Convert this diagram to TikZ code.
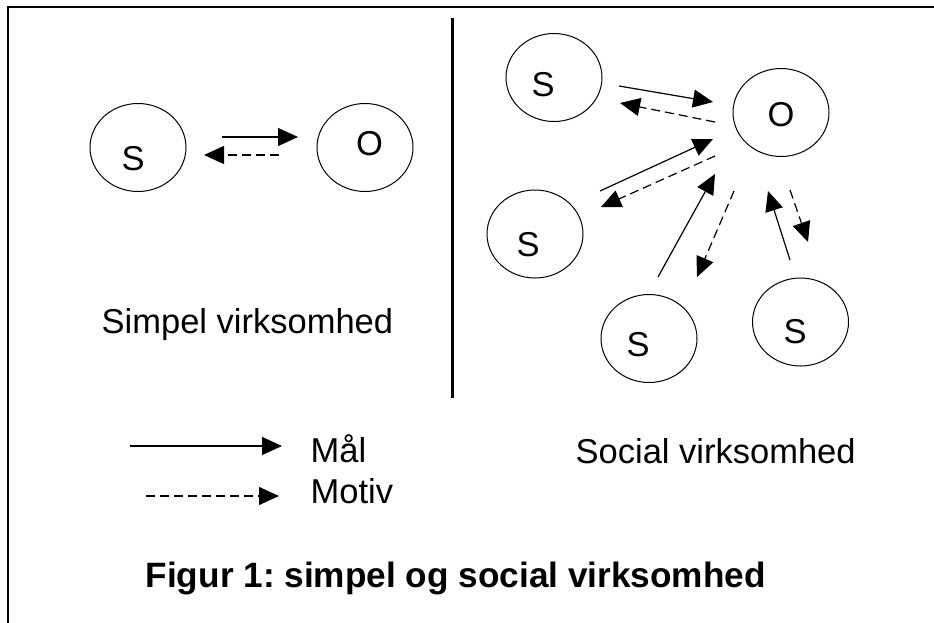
\documentclass[tikz,border=0pt]{standalone}
\usepackage{fontspec}
\setmainfont{Liberation Sans}
\usetikzlibrary{arrows.meta,shapes.geometric,positioning}
\frenchspacing

\tikzset{
  obj/.style={draw, ellipse, minimum width=96pt, minimum height=88pt, inner sep=0pt, line width=1pt},
  txt/.style={anchor=base west, inner sep=0pt, font=\fontsize{34.5}{40}\selectfont},
  maal/.style={line width=1.2pt, -{Triangle[length=20pt,width=18pt]}},
  motiv/.style={maal, dash pattern=on 9pt off 5pt},
}

\begin{document}
\begin{tikzpicture}[x=1pt,y=-1pt]
    \useasboundingbox (0,0) rectangle (934,623);
    \draw[line width=2pt] (8,623) -- (8,7) -- (934,7);
    \draw[line width=2.5pt] (452.7,18) -- (452.7,398);

    % simpel
    \node[obj] (s0) at (138,147.5) {};
    \node[obj] (o0) at (365,147.5) {};
    \node[txt] (s0t) at (121.5,170) {S};
    \node[txt] (o0t) at (356,156) {O};
    \coordinate (m0a) at (222,137);
    \coordinate (m0b) at (298,137);
    \coordinate (v0a) at (279,155);
    \coordinate (v0b) at (204,155);
    \draw[maal] (m0a) -- (m0b);
    \draw[motiv] (v0a) -- (v0b);
    \node[txt] (simpel) at (101.5,333) {Simpel virksomhed};

    % social
    \node[obj] (s1) at (554,77.5) {};
    \node[obj] (o1) at (781,112.5) {};
    \node[obj] (s2) at (535,234) {};
    \node[obj] (s3) at (649,338.5) {};
    \node[obj] (s4) at (800.5,322) {};
    \node[txt] (s1t) at (531.5,97) {S};
    \node[txt] (o1t) at (767.5,127) {O};
    \node[txt] (s2t) at (516.5,256) {S};
    \node[txt] (s3t) at (626.5,356) {S};
    \node[txt] (s4t) at (783.5,343) {S};

    \coordinate (m1a) at (619,86);  \coordinate (m1b) at (713,102);
    \coordinate (v1a) at (715,122); \coordinate (v1b) at (620,103);
    \coordinate (m2a) at (600,191); \coordinate (m2b) at (713,139);
    \coordinate (v2a) at (715,156); \coordinate (v2b) at (601,207);
    \coordinate (m3a) at (658,277); \coordinate (m3b) at (715,174);
    \coordinate (v3a) at (734,191); \coordinate (v3b) at (697,277);
    \coordinate (m4a) at (790,260); \coordinate (m4b) at (768,191);
    \coordinate (v4a) at (790,190); \coordinate (v4b) at (808,242);
    \foreach \i in {1,...,4} {
        \draw[maal] (m\i a) -- (m\i b);
        \draw[motiv] (v\i a) -- (v\i b);
    }
    \node[txt] (social) at (575.5,463) {Social virksomhed};

    % legend
    \coordinate (lma) at (130,446); \coordinate (lmb) at (282,446);
    \coordinate (lva) at (146,496); \coordinate (lvb) at (279,496);
    \draw[maal] (lma) -- (lmb);
    \draw[motiv] (lva) -- (lvb);
    \node[txt] (maalt) at (310.5,462) {Mål};
    \node[txt] (motivt) at (310.5,503) {Motiv};

    \node[txt, font=\fontsize{35.2}{40}\selectfont\bfseries] (fig) at (145.5,587) {Figur 1: simpel og social virksomhed};
\end{tikzpicture}
\end{document}
